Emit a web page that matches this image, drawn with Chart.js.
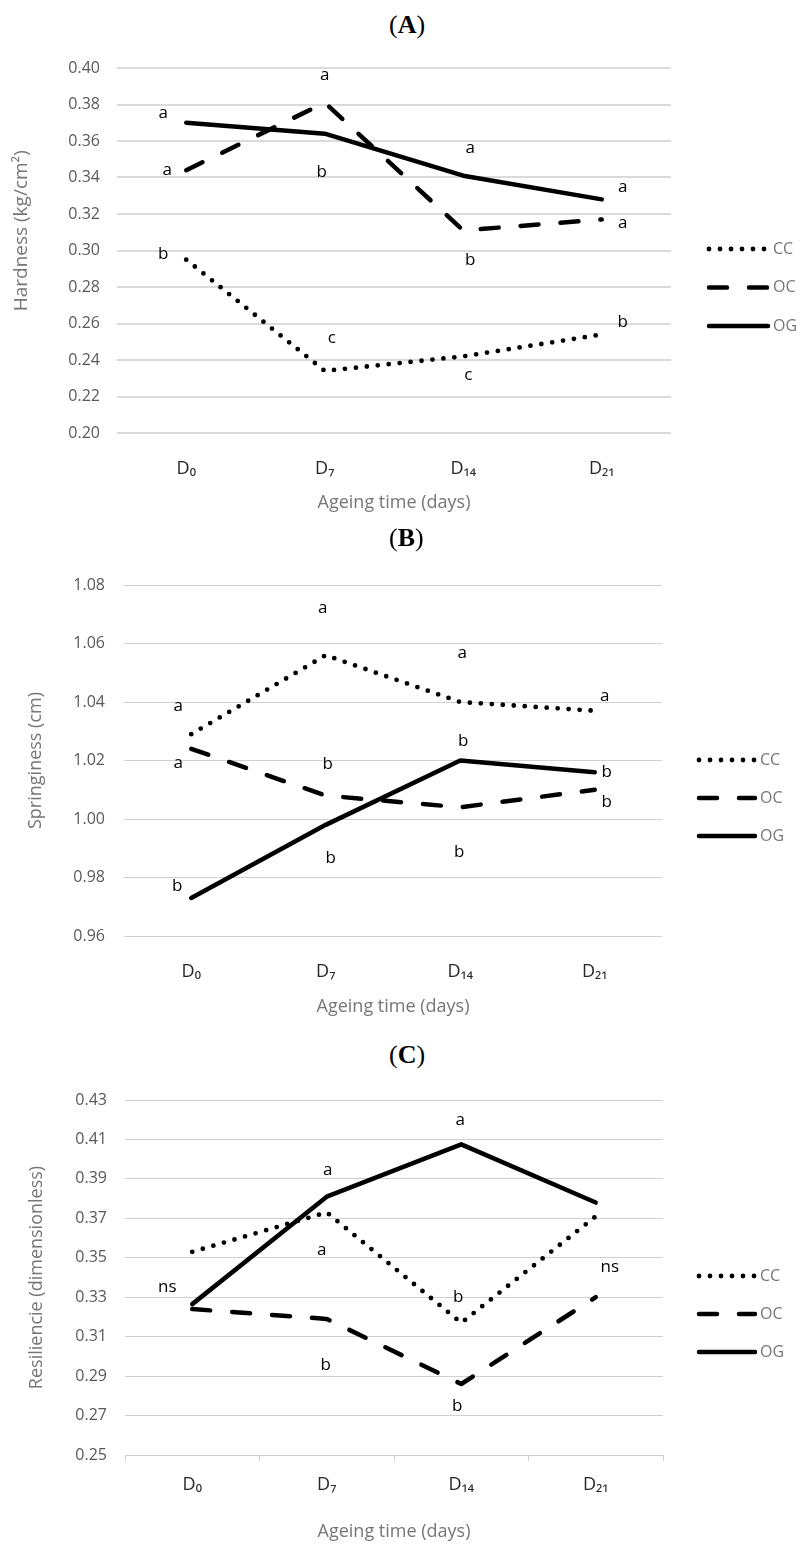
<!DOCTYPE html>
<html>
<head>
<meta charset="utf-8">
<script src="https://cdn.jsdelivr.net/npm/chart.js@4.4.0/dist/chart.umd.min.js"></script>
<style>
  body { margin: 0; background: #fff; width: 802px; height: 1544px; position: relative; overflow: hidden; }
  canvas { position: absolute; left: 0; }
  .ttl { position: absolute; left: 389px; font-family: 'Liberation Serif', serif; font-size: 26px; line-height: 26px; color: #000; }
</style>
</head>
<body>
<div class="ttl" style="top:12px">(<b>A</b>)</div>
<canvas id="chA" width="802" height="490" style="top:40px"></canvas>
<div class="ttl" style="top:525px">(<b>B</b>)</div>
<canvas id="chB" width="802" height="475" style="top:555px"></canvas>
<div class="ttl" style="top:1042px">(<b>C</b>)</div>
<canvas id="chC" width="802" height="469" style="top:1075px"></canvas>
<script>
// categories
const days = ['D\u2080', 'D\u2087', 'D\u2081\u2084', 'D\u2082\u2081'];
const groups = ['CC', 'OC', 'OG'];

// (A) hardness, kg/cm2
const hardnessCC = [0.295, 0.234, 0.242, 0.254];
const hardnessOC = [0.344, 0.381, 0.311, 0.317];
const hardnessOG = [0.370, 0.364, 0.341, 0.328];
const hardnessSigCC = ['b', 'c', 'c', 'b'];
const hardnessSigOC = ['a', 'a', 'b', 'a'];
const hardnessSigOG = ['a', 'b', 'a', 'a'];

// (B) springiness, cm
const springCC = [1.029, 1.056, 1.040, 1.037];
const springOC = [1.024, 1.008, 1.004, 1.010];
const springOG = [0.973, 0.998, 1.020, 1.016];
const springSigCC = ['a', 'a', 'a', 'a'];
const springSigOC = ['a', 'b', 'b', 'b'];
const springSigOG = ['b', 'b', 'b', 'b'];

// (C) resilience
const resilCC = [0.353, 0.373, 0.317, 0.371];
const resilOC = [0.324, 0.319, 0.286, 0.330];
const resilOG = [0.3265, 0.381, 0.4075, 0.378];
const resilSigCC = ['', 'a', 'b', ''];
const resilSigOC = ['', 'b', 'b', 'ns'];
const resilSigOG = ['ns', 'a', 'a', ''];

// line look for each group
const lineStyle = {
  CC: { borderDash: [0, 11], borderWidth: 4.8 },
  OC: { borderDash: [18, 22], borderWidth: 4.5 },
  OG: { borderDash: [], borderWidth: 4.5 }
};

Chart.defaults.font.family = "'Open Sans', sans-serif";

// letters next to the points (offsets in px from the point)
const sigLetters = {
  id: 'sigLetters',
  afterDatasetsDraw(chart) {
    const ctx = chart.ctx;
    ctx.save();
    ctx.font = "17px 'Open Sans'";
    ctx.fillStyle = '#000';
    ctx.textAlign = 'center';
    ctx.textBaseline = 'middle';
    chart.data.datasets.forEach((ds, di) => {
      const meta = chart.getDatasetMeta(di);
      ds.letters.forEach((t, i) => {
        if (!t) return;
        const p = meta.data[i];
        ctx.fillText(t, p.x + ds.letterOffsets[i][0], p.y + ds.letterOffsets[i][1]);
      });
    });
    ctx.restore();
  }
};

// legend at the right, drawn with the datasets' own dash
const sideLegend = {
  id: 'sideLegend',
  afterDraw(chart, args, o) {
    const ctx = chart.ctx;
    chart.data.datasets.forEach((ds, i) => {
      const y = o.y + i * o.gap;
      ctx.save();
      ctx.strokeStyle = '#000';
      ctx.lineWidth = ds.borderWidth;
      ctx.lineCap = 'round';
      ctx.setLineDash(ds.borderDash);
      ctx.beginPath();
      ctx.moveTo(o.x1 + 2, y);
      ctx.lineTo(o.x2 - 2, y);
      ctx.stroke();
      ctx.setLineDash([]);
      ctx.fillStyle = '#767676';
      ctx.font = "16px 'Open Sans'";
      ctx.textAlign = 'left';
      ctx.textBaseline = 'middle';
      ctx.fillText(ds.label, o.x2 + 3, y);
      ctx.restore();
    });
  }
};

function makeChart(id, p) {
  const datasets = groups.map((g, i) => ({
    label: g,
    data: p.values[i],
    letters: p.letters[i],
    letterOffsets: p.offsets[i],
    borderColor: '#000',
    borderWidth: lineStyle[g].borderWidth,
    borderDash: lineStyle[g].borderDash,
    borderCapStyle: 'round',
    borderJoinStyle: 'round',
    pointRadius: 0,
    tension: 0,
    fill: false
  }));

  return new Chart(document.getElementById(id), {
    type: 'line',
    data: { labels: days, datasets: datasets },
    plugins: [sigLetters, sideLegend],
    options: {
      responsive: false,
      animation: false,
      layout: { padding: { top: p.top, right: p.right, left: 0, bottom: 0 } },
      plugins: {
        legend: { display: false },
        tooltip: { enabled: false },
        sideLegend: p.legend
      },
      scales: {
        x: {
          offset: true,
          ticks: { color: '#262626', font: { size: 18 }, padding: p.xTickPad, maxRotation: 0, autoSkip: false },
          grid: p.xTicks
            ? { display: true, drawOnChartArea: false, drawTicks: true, tickLength: 6, color: p.gridColor, offset: true }
            : { display: false, drawTicks: false },
          border: { display: p.xTicks, color: p.gridColor },
          title: { display: true, text: 'Ageing time (days)', color: '#767676', font: { size: 18 }, padding: { top: 0, bottom: p.xTitlePad } },
          afterFit: s => { s.height = p.xHeight; s.paddingLeft = 0; s.paddingRight = 0; }
        },
        y: {
          min: p.min,
          max: p.max,
          ticks: { stepSize: 0.02, padding: p.yTickPad, color: '#595959', font: { size: 16 }, callback: v => v.toFixed(2) },
          grid: { color: p.gridColor, lineWidth: p.gridWidth, drawTicks: false },
          border: { display: false },
          title: { display: true, text: p.yTitle, color: '#767676', font: { size: p.yTitleSize }, padding: { top: p.yTitlePad, bottom: 0 } },
          afterFit: s => { s.width = p.left; s.paddingTop = 0; s.paddingBottom = 0; }
        }
      }
    }
  });
}

makeChart('chA', {
  values: [hardnessCC, hardnessOC, hardnessOG],
  letters: [hardnessSigCC, hardnessSigOC, hardnessSigOG],
  offsets: [
    [[-23, -5], [7, -33], [5, 19], [21, -12]],
    [[-19, 0], [0, -28], [7, 30], [21, 4]],
    [[-23, -10], [-3, 38], [7, -28], [21, -12]]
  ],
  min: 0.20, max: 0.40,
  yTitle: '\u00A0\u00A0\u00A0\u00A0\u00A0\u00A0\u00A0\u00A0Hardness (kg/cm\u00B2)',
  yTitleSize: 19,
  top: 28, right: 131, left: 117, xHeight: 97,
  xTickPad: 25, xTitlePad: 16, yTickPad: 17, yTitlePad: 10,
  gridColor: '#dadada', gridWidth: 2, xTicks: false,
  legend: { x1: 707, x2: 770, y: 209, gap: 38.5 }
});

makeChart('chB', {
  values: [springCC, springOC, springOG],
  letters: [springSigCC, springSigOC, springSigOG],
  offsets: [
    [[-13, -28], [-3, -47], [2, -49], [10, -15]],
    [[-13, 14], [2, -31], [-1, 45], [12, 12]],
    [[-14, -12], [5, 33], [3, -19], [12, 0]]
  ],
  min: 0.96, max: 1.08,
  yTitle: 'Springiness (cm)',
  yTitleSize: 18,
  top: 30, right: 140, left: 124, xHeight: 94,
  xTickPad: 25, xTitlePad: 12, yTickPad: 19, yTitlePad: 25,
  gridColor: '#d0d0d0', gridWidth: 1, xTicks: false,
  legend: { x1: 697, x2: 757, y: 205, gap: 38 }
});

makeChart('chC', {
  values: [resilCC, resilOC, resilOG],
  letters: [resilSigCC, resilSigOC, resilSigOG],
  offsets: [
    [[0, 0], [-5, 38], [-3, -26], [0, 0]],
    [[0, 0], [-1, 46], [-4, 22], [14, -30]],
    [[-25, -17], [1, -26], [-1, -24], [0, 0]]
  ],
  min: 0.25, max: 0.43,
  yTitle: 'Resiliencie (dimensionless)',
  yTitleSize: 18,
  top: 25, right: 139, left: 125, xHeight: 89,
  xTickPad: 13, xTitlePad: 1, yTickPad: 18, yTitlePad: 26,
  gridColor: '#d0d0d0', gridWidth: 1, xTicks: true,
  legend: { x1: 697, x2: 757, y: 201, gap: 38 }
});
</script>
</body>
</html>
